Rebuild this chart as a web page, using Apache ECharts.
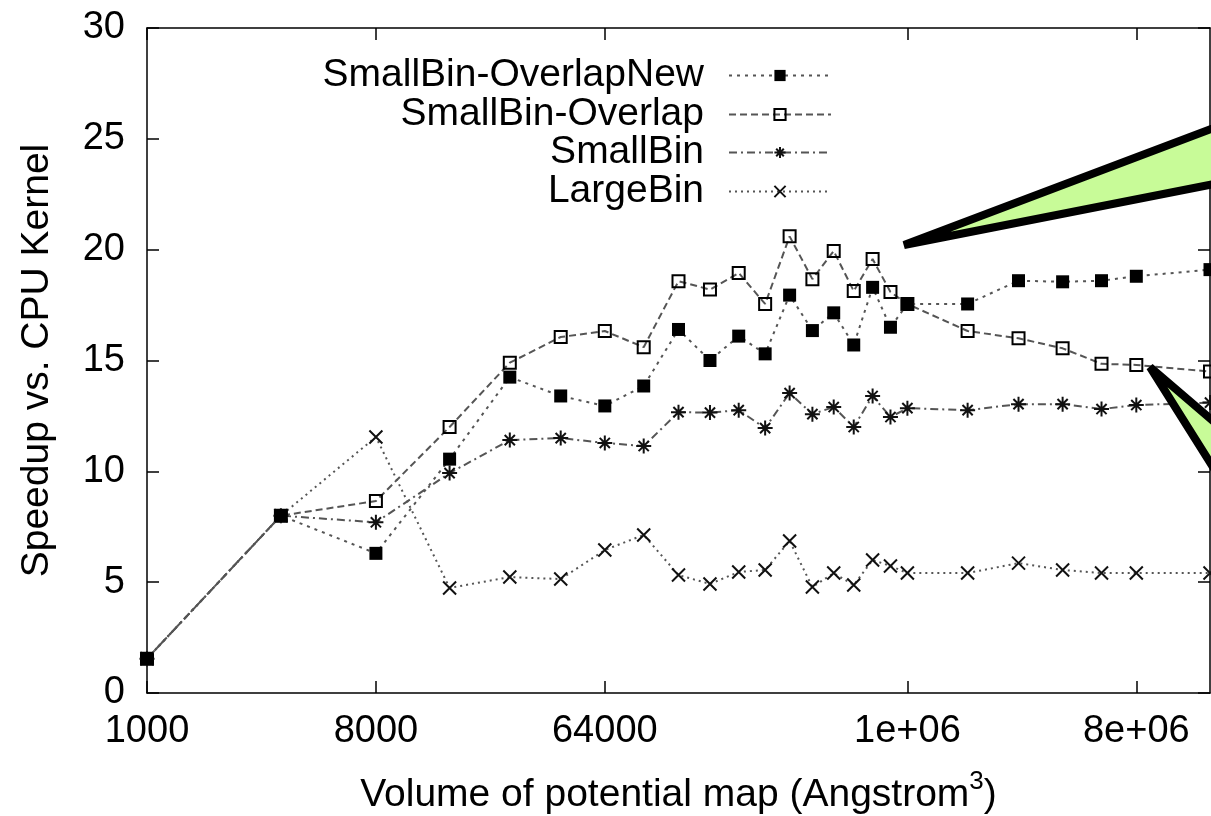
<!DOCTYPE html>
<html><head><meta charset="utf-8">
<script src="https://cdn.jsdelivr.net/npm/echarts@6/dist/echarts.min.js"></script>
<style>html,body{margin:0;padding:0;background:#fff}#c{width:1211px;height:816px}</style>
</head><body><div id="c"></div>
<script>
// ---- data ----
const volumes = [1000, 3375, 8000, 15625, 27000, 42875, 64000, 91125, 125000, 166375, 216000, 274625, 343000, 421875, 512000, 614125, 729000, 857375, 1000000, 1728000, 2744000, 4096000, 5832000, 8000000, 15625000];
const xTickValues = [1000, 8000, 64000, 1000000, 8000000];
const xTickLabels = ['1000', '8000', '64000', '1e+06', '8e+06'];
const seriesNames = ['SmallBin-OverlapNew', 'SmallBin-Overlap', 'SmallBin', 'LargeBin'];
const overlapNew = [1.55, 8.0, 6.3, 10.55, 14.25, 13.4, 12.95, 13.85, 16.4, 15.0, 16.1, 15.3, 17.95, 16.35, 17.15, 15.7, 18.3, 16.5, 17.55, 17.55, 18.6, 18.55, 18.6, 18.8, 19.1];
const overlap = [1.55, 8.0, 8.66, 12.0, 14.9, 16.06, 16.33, 15.6, 18.58, 18.2, 18.95, 17.55, 20.6, 18.67, 19.94, 18.13, 19.58, 18.09, 17.55, 16.33, 16.0, 15.55, 14.85, 14.8, 14.5];
const smallBin = [1.55, 8.0, 7.7, 9.92, 11.41, 11.5, 11.28, 11.14, 12.67, 12.65, 12.76, 11.95, 13.53, 12.58, 12.9, 12.0, 13.4, 12.45, 12.85, 12.76, 13.03, 13.03, 12.81, 12.99, 13.1];
const largeBin = [1.55, 8.0, 11.55, 4.74, 5.23, 5.14, 6.45, 7.13, 5.32, 4.92, 5.46, 5.55, 6.86, 4.78, 5.41, 4.87, 6.0, 5.73, 5.41, 5.41, 5.86, 5.55, 5.41, 5.41, 5.41];
const yTickLabels = ['0', '5', '10', '15', '20', '25', '30'];

// ---- chart ----
const FONT = '"Liberation Sans", Arial, Helvetica, sans-serif';
const toX = v => Math.log2(v);
const pairs = ys => volumes.map((v, i) => [toX(v), ys[i]]);
const xTickPos = xTickValues.map(toX);
const starPath = 'path://M5 0L5 10M0 5L10 5M1.6 1.6L8.4 8.4M8.4 1.6L1.6 8.4';
const crossPath = 'path://M0 0L10 10M10 0L0 10';
const LINE = '#555';

const chart = echarts.init(document.getElementById('c'), null, {renderer: 'canvas'});
const axisLineStyle = {color: '#000', width: 1.5};
const baseX = {
  type: 'value', min: toX(volumes[0]), max: toX(volumes[volumes.length - 1]),
  splitLine: {show: false},
  axisLine: {show: true, onZero: false, lineStyle: axisLineStyle},
  axisTick: {show: true, inside: true, length: 12, customValues: xTickPos, lineStyle: axisLineStyle}
};
const baseY = {
  type: 'value', min: 0, max: 30, interval: 5,
  splitLine: {show: false},
  axisLine: {show: true, onZero: false, lineStyle: axisLineStyle},
  axisTick: {show: true, inside: true, length: 12, lineStyle: axisLineStyle}
};
const legendTops = [56, 95, 133, 172];
const option = {
  animation: false,
  backgroundColor: '#fff',
  grid: {left: 147, right: 1, top: 28, bottom: 123, containLabel: false, outerBoundsMode: 'none'},
  xAxis: [
    Object.assign({}, baseX, {
      position: 'bottom',
      axisLabel: {
        customValues: xTickPos, margin: 20, color: '#000', fontFamily: FONT, fontSize: 38,
        formatter: v => { const i = xTickPos.findIndex(t => Math.abs(t - v) < 1e-6); return i >= 0 ? xTickLabels[i] : ''; }
      },
      name: 'Volume of potential map (Angstrom{sup|3})', nameLocation: 'middle', nameGap: 76,
      nameTextStyle: {color: '#000', fontFamily: FONT, fontSize: 39,
        rich: {sup: {fontSize: 26, fontFamily: FONT, color: '#000', verticalAlign: 'top', padding: [0, 0, 26, 0]}}}
    }),
    Object.assign({}, baseX, {position: 'top', axisLabel: {show: false}})
  ],
  yAxis: [
    Object.assign({}, baseY, {
      position: 'left',
      axisLabel: {margin: 22, color: '#000', fontFamily: FONT, fontSize: 38,
        formatter: v => yTickLabels[Math.round(v / 5)]},
      name: 'Speedup vs. CPU Kernel', nameLocation: 'middle', nameGap: 90, nameRotate: 90,
      nameTextStyle: {color: '#000', fontFamily: FONT, fontSize: 39}
    }),
    Object.assign({}, baseY, {position: 'right', axisLabel: {show: false}})
  ],
  legend: seriesNames.map((name, i) => ({
    data: [name], right: 379, top: legendTops[i], align: 'right', padding: 0,
    itemWidth: 102, itemHeight: 14, selectedMode: false,
    textStyle: {color: '#000', fontFamily: FONT, fontSize: 39, padding: [0, 20, 0, 0]}
  })),
  series: [
    {name: seriesNames[1], type: 'line', data: pairs(overlap), z: 3,
      symbol: 'rect', symbolSize: 12,
      itemStyle: {color: 'rgba(255,255,255,0)', borderColor: '#000', borderWidth: 2},
      lineStyle: {color: LINE, width: 2, type: [7, 4]}},
    {name: seriesNames[2], type: 'line', data: pairs(smallBin), z: 3,
      symbol: starPath, symbolSize: 15,
      itemStyle: {color: 'rgba(255,255,255,0)', borderColor: '#111', borderWidth: 2},
      lineStyle: {color: LINE, width: 2, type: [8, 4, 2, 4]}},
    {name: seriesNames[3], type: 'line', data: pairs(largeBin), z: 3,
      symbol: crossPath, symbolSize: 13,
      itemStyle: {color: 'rgba(255,255,255,0)', borderColor: '#111', borderWidth: 2},
      lineStyle: {color: LINE, width: 2, type: [2, 4]}},
    {name: seriesNames[0], type: 'line', data: pairs(overlapNew), z: 4,
      symbol: 'rect', symbolSize: 13,
      itemStyle: {color: '#000'},
      lineStyle: {color: LINE, width: 2, type: [3, 5]}}
  ],
  graphic: [
    {type: 'polygon', z: 100, shape: {points: [[904, 245], [1240, 118], [1240, 179]]},
      style: {fill: '#c8fb98', stroke: '#000', lineWidth: 8, lineJoin: 'bevel'}},
    {type: 'polygon', z: 100, shape: {points: [[1150, 367], [1240, 444], [1240, 510]]},
      style: {fill: '#c8fb98', stroke: '#000', lineWidth: 8, lineJoin: 'bevel'}}
  ]
};
chart.setOption(option);
</script></body></html>
